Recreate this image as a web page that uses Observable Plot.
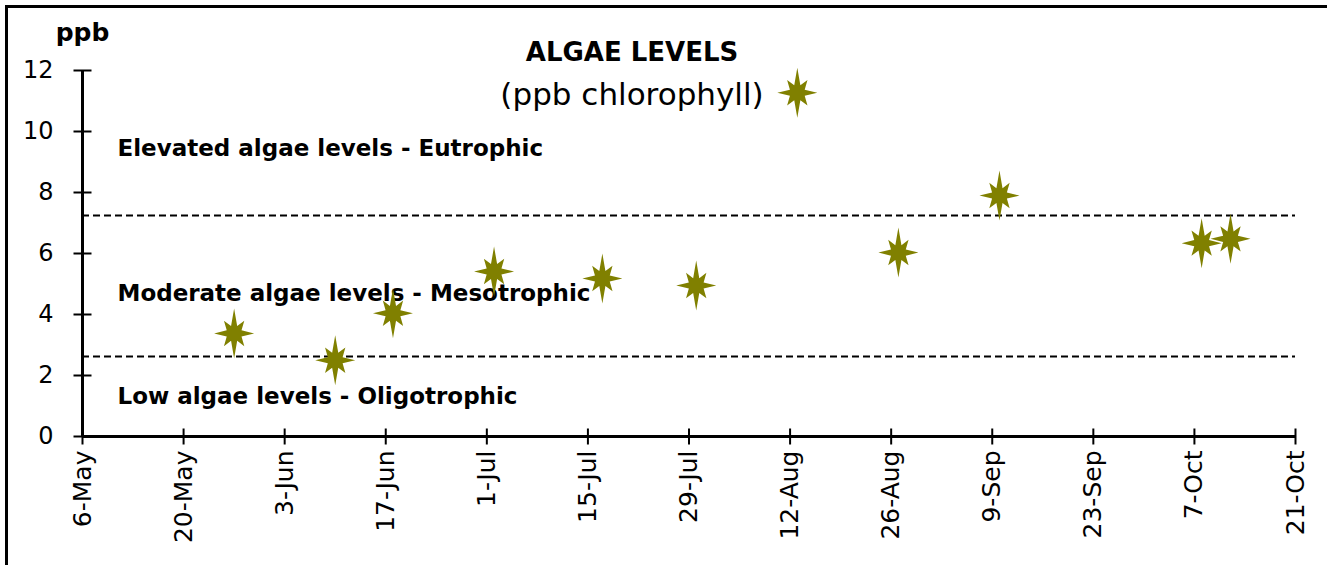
<!DOCTYPE html>
<html>
<head>
<meta charset="utf-8">
<script src="https://cdn.jsdelivr.net/npm/d3@7"></script>
<script src="https://cdn.jsdelivr.net/npm/@observablehq/plot@0.6"></script>
<style>
  html, body { margin: 0; padding: 0; background: #fff; }
  #wrap { position: relative; width: 1327px; height: 565px; overflow: hidden; }
  #frame { position: absolute; left: 5px; top: 5px; width: 1400px; height: 700px;
           border-left: 3px solid #000; border-top: 3px solid #000; box-sizing: border-box; }
  #chart { position: absolute; left: 0; top: 0; }
</style>
</head>
<body>
<div id="wrap"><div id="frame"></div><div id="chart"></div></div>
<script>
// ---- data ----
const sampleDates = ["2019-05-27","2019-06-10","2019-06-18","2019-07-02","2019-07-17","2019-07-30",
                     "2019-08-13","2019-08-27","2019-09-10","2019-10-08","2019-10-12"];
const chlorophyll = [3.38, 2.5, 4.04, 5.41, 5.18, 4.95, 11.27, 6.03, 7.9, 6.34, 6.48];
const thresholds = [7.25, 2.62];
const zoneLabels = ["Elevated algae levels - Eutrophic", "Moderate algae levels - Mesotrophic", "Low algae levels - Oligotrophic"];
const zoneLabelY = [9.45, 4.7, 1.3];
const xTickDates = ["2019-05-06","2019-05-20","2019-06-03","2019-06-17","2019-07-01","2019-07-15","2019-07-29",
                    "2019-08-12","2019-08-26","2019-09-09","2019-09-23","2019-10-07","2019-10-21"];
const yTicks = [0, 2, 4, 6, 8, 10, 12];
const title = "ALGAE LEVELS";
const subtitle = "(ppb chlorophyll)";
const yLabel = "ppb";

// ---- build ----
const parse = d3.utcParse("%Y-%m-%d");
const points = sampleDates.map((d, i) => ({date: parse(d), value: chlorophyll[i]}));
const xTicks = xTickDates.map(parse);
const xStart = xTicks[0], xEnd = xTicks[xTicks.length - 1];
const zones = zoneLabels.map((t, i) => ({text: t, y: zoneLabelY[i]}));

// 8-pointed star symbol (long vertical/horizontal points, shorter diagonals)
const star = {
  draw(ctx, size) {
    const R = Math.sqrt(size / Math.PI) / 20;
    const rx = 20 * R, ry = 25 * R, inner = 8 * R;
    for (let i = 0; i < 16; i++) {
      const a = i * Math.PI / 8 - Math.PI / 2;
      let px, py;
      if (i % 2 === 1) { px = inner * Math.cos(a); py = inner * Math.sin(a); }
      else if (i % 4 === 0) { px = rx * Math.cos(a); py = ry * Math.sin(a); }
      else { px = 0.72 * rx * Math.cos(a); py = 0.72 * ry * Math.sin(a); }
      if (i === 0) ctx.moveTo(px, py); else ctx.lineTo(px, py);
    }
    ctx.closePath();
  }
};
const hTick = { draw(ctx, size) { const r = Math.sqrt(size / Math.PI); ctx.moveTo(-r, 0); ctx.lineTo(r, 0); } };
const vTick = { draw(ctx, size) { const r = Math.sqrt(size / Math.PI); ctx.moveTo(0, -r); ctx.lineTo(0, r); } };

const FONT = "DejaVu Sans";
const plot = Plot.plot({
  width: 1327,
  height: 565,
  marginLeft: 82,
  marginRight: 32,
  marginTop: 70,
  marginBottom: 129,
  style: {background: "transparent", fontFamily: FONT, overflow: "visible"},
  x: {type: "utc", domain: [xStart, xEnd], axis: null},
  y: {domain: [0, 12], axis: null},
  marks: [
    // threshold dashed lines
    Plot.ruleY(thresholds, {x1: xStart, x2: xEnd, stroke: "#000", strokeWidth: 2, strokeDasharray: "7,4"}),
    // axes lines
    Plot.ruleX([xStart], {y1: 0, y2: 12, stroke: "#000", strokeWidth: 3}),
    Plot.ruleY([0], {x1: xStart, x2: xEnd, stroke: "#000", strokeWidth: 3}),
    // tick marks crossing axes
    Plot.dot(yTicks, {x: () => xStart, y: d => d, symbol: hTick, r: 9, fill: "none", stroke: "#000", strokeWidth: 2}),
    Plot.dot(xTicks, {x: d => d, y: () => 0, symbol: vTick, r: 8, fill: "none", stroke: "#000", strokeWidth: 2}),
    // tick labels
    Plot.text(yTicks, {frameAnchor: "left", y: d => d, text: d => String(d), dx: -29, textAnchor: "end",
      fontSize: 24, fill: "#000", fontFamily: FONT}),
    Plot.text(xTicks, {x: d => d, frameAnchor: "bottom", text: d => d3.utcFormat("%-d-%b")(d), rotate: -90,
      textAnchor: "end", lineAnchor: "middle", dy: 14, fontSize: 25, fill: "#000", fontFamily: FONT}),
    // zone labels
    Plot.text(zones, {frameAnchor: "left", y: "y", text: "text", dx: 35, textAnchor: "start", lineAnchor: "middle",
      fontSize: 23, fontWeight: "bold", fill: "#000", fontFamily: FONT}),
    // y label, title, subtitle
    Plot.text([yLabel], {frameAnchor: "top-left", text: d => d, dy: -38, textAnchor: "middle", lineAnchor: "middle",
      fontSize: 25, fontWeight: "bold", fill: "#000", fontFamily: FONT}),
    Plot.text([title], {frameAnchor: "top", text: d => d, dx: -57, dy: -18, textAnchor: "middle", lineAnchor: "middle",
      fontSize: 26, fontWeight: "bold", fill: "#000", fontFamily: FONT}),
    Plot.text([subtitle], {frameAnchor: "top", text: d => d, dx: -57, dy: 25, textAnchor: "middle", lineAnchor: "middle",
      fontSize: 31, fill: "#000", fontFamily: FONT}),
    // data stars
    Plot.dot(points, {x: "date", y: "value", symbol: star, r: 20, fill: "#808000", stroke: "none"})
  ]
});
document.getElementById("chart").appendChild(plot);
</script>
</body>
</html>
